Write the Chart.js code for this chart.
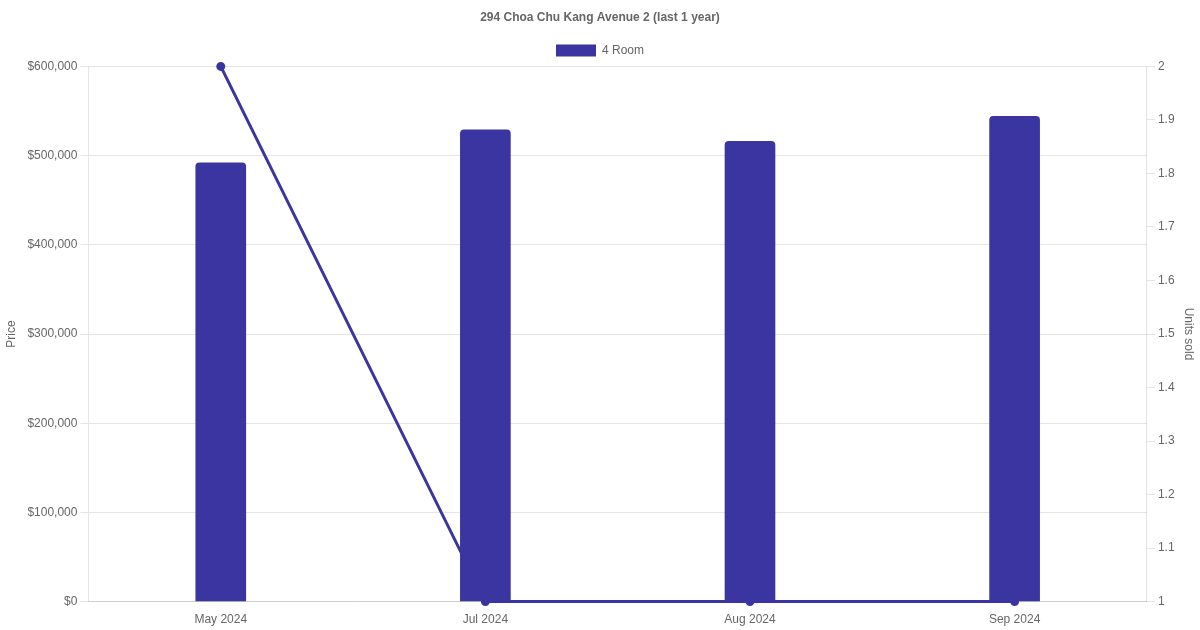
<!DOCTYPE html>
<html>
<head>
<meta charset="utf-8">
<script src="https://cdn.jsdelivr.net/npm/chart.js@4"></script>
<style>
    html, body { margin: 0; padding: 0; background: #fff; }
    #wrap { width: 1200px; height: 630px; }
</style>
</head>
<body>
<div id="wrap"><canvas id="chart"></canvas></div>
<script>
const months = ['May 2024', 'Jul 2024', 'Aug 2024', 'Sep 2024'];
const prices4Room = [492000, 529000, 516000, 544000];
const unitsSold = [2, 1, 1, 1];

Chart.defaults.font.family = '"Liberation Sans", Arial, Helvetica, sans-serif';
Chart.defaults.color = '#666';

const ctx = document.getElementById('chart');

new Chart(ctx, {
    type: 'bar',
    data: {
        labels: months,
        datasets: [{
            label: '4 Room',
            data: prices4Room,
            backgroundColor: 'rgb(58, 53, 160)',
            borderColor: 'rgb(58, 53, 160)',
            borderRadius: 4,
            barThickness: 50,
            yAxisID: 'y'
        }, {
            type: 'line',
            label: 'Units sold',
            data: unitsSold,
            borderColor: 'rgb(58, 53, 160)',
            backgroundColor: 'rgb(58, 53, 160)',
            borderWidth: 3,
            pointRadius: 3,
            fill: false,
            tension: 0,
            clip: false,
            yAxisID: 'y1'
        }]
    },
    options: {
        maintainAspectRatio: false,
        responsive: true,
        animation: false,
        plugins: {
            title: {
                display: true,
                text: '294 Choa Chu Kang Avenue 2 (last 1 year)',
                font: { size: 12, weight: 'bold' }
            },
            legend: {
                labels: {
                    filter: item => item.text === '4 Room'
                }
            }
        },
        scales: {
            x: {
                grid: { display: false }
            },
            y: {
                position: 'left',
                min: 0,
                max: 600000,
                afterFit: scale => { scale.width += 2; },
                ticks: {
                    stepSize: 100000,
                    callback: v => '$' + v.toLocaleString('en-US')
                },
                title: { display: true, text: 'Price' }
            },
            y1: {
                position: 'right',
                min: 1,
                max: 2,
                ticks: {
                    stepSize: 0.1,
                    callback: v => String(Number(v.toFixed(1)))
                },
                grid: { drawOnChartArea: false },
                title: { display: true, text: 'Units sold' }
            }
        }
    }
});
</script>
</body>
</html>
